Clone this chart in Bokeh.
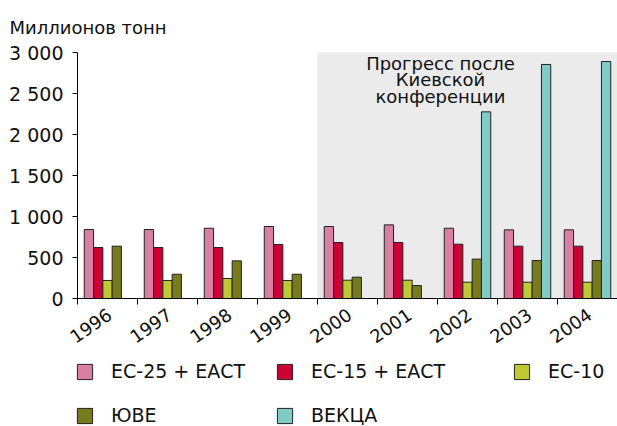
import math
from bokeh.plotting import figure
from bokeh.models import (ColumnDataSource, Range1d, FixedTicker, BoxAnnotation, Label,
                          Legend, LegendItem)
from bokeh.transform import dodge
from bokeh.embed import file_html
from bokeh.resources import INLINE

NAN = float("nan")
years = ["1996", "1997", "1998", "1999", "2000", "2001", "2002", "2003", "2004"]
eu25_efta = [841, 841, 857, 878, 878, 898, 857, 837, 837]
eu15_efta = [622, 622, 622, 659, 683, 683, 662, 638, 638]
eu10 = [220, 220, 244, 220, 223, 223, 199, 199, 199]
see = [638, 296, 459, 296, 260, 158, 480, 463, 463]
eecca = [NAN, NAN, NAN, NAN, NAN, NAN, 2276, 2854, 2890]

series_names = ["ЕС-25 + ЕАСТ", "ЕС-15 + ЕАСТ", "ЕС-10", "ЮВЕ", "ВЕКЦА"]
series_keys = ["eu25", "eu15", "eu10", "see", "eecca"]
colors = ["#D97FA1", "#CC0035", "#BFC833", "#787A1E", "#80CBC6"]
y_ticks = [0, 500, 1000, 1500, 2000, 2500, 3000]
y_labels = ["0", "500", "1 000", "1 500", "2 000", "2 500", "3 000"]
title_text = "Миллионов тонн"
note_text = "Прогресс после\nКиевской\nконференции"

FONT = "DejaVu Sans"

W, H = 617, 426
TOP = 52            # pixel row of the 3000 line
AXIS_X = 77         # pixel column of the y axis
PX_PER_CAT = 60
Y_MAX = 3000
PX_PER_UNIT = 0.082  # 246 px for 3000
y_end = Y_MAX + TOP / PX_PER_UNIT
y_start = Y_MAX - (H - TOP) / PX_PER_UNIT
x_start = -AXIS_X / PX_PER_CAT
x_end = (W - AXIS_X) / PX_PER_CAT

n = len(years)
centers = [i + 0.5 for i in range(n)]
source = ColumnDataSource(dict(x=centers, eu25=eu25_efta, eu15=eu15_efta, eu10=eu10,
                               see=see, eecca=eecca))

p = figure(width=W, height=H, output_backend="svg", toolbar_location=None,
           x_range=Range1d(x_start, x_end), y_range=Range1d(y_start, y_end),
           min_border_left=0, min_border_right=0, min_border_top=0,
           min_border_bottom=0)
p.outline_line_color = None
p.xgrid.visible = False
p.ygrid.visible = False
p.background_fill_color = "white"
p.title.visible = False

title = Label(x=9, y=H - 27, x_units="screen", y_units="screen", text=title_text,
              text_baseline="alphabetic", text_font=FONT, text_font_size="18px",
              text_color="#111111")
p.add_layout(title)

shade = BoxAnnotation(left=4, bottom=0, top=Y_MAX, fill_color="#EBEBEB", fill_alpha=1.0,
                      line_color=None, level="underlay")
p.add_layout(shade)

bw = 0.155
offsets = [-2 * bw, -bw, 0, bw, 2 * bw]
renderers = []
for key, col, off in zip(series_keys, colors, offsets):
    r = p.vbar(x=dodge("x", off, range=p.x_range), top=key, width=bw, source=source,
               fill_color=col, line_color="#222222", line_width=1)
    renderers.append(r)

# y axis drawn at x = 0
p.yaxis.fixed_location = 0
p.yaxis.bounds = (0, Y_MAX)
p.yaxis.ticker = FixedTicker(ticks=y_ticks)
p.yaxis.major_label_overrides = {t: l for t, l in zip(y_ticks, y_labels)}
p.yaxis.minor_tick_line_color = None
p.yaxis.major_tick_out = 5
p.yaxis.major_tick_in = 0
p.yaxis.major_label_standoff = 9
p.yaxis.major_label_text_font = FONT
p.yaxis.major_label_text_font_size = "19px"
p.yaxis.major_label_text_color = "#111111"
p.yaxis.axis_line_color = "black"
p.yaxis.major_tick_line_color = "black"

# x axis drawn at y = 0: labels near centers, tick marks at boundaries (minor ticks)
label_shift = 0.035
label_pos = [c + label_shift for c in centers]
p.xaxis.fixed_location = 0
p.xaxis.bounds = (0, n)
p.xaxis.ticker = FixedTicker(ticks=label_pos, minor_ticks=list(range(n + 1)))
p.xaxis.major_label_overrides = {c: y for c, y in zip(label_pos, years)}
p.xaxis.major_tick_line_color = None
p.xaxis.minor_tick_line_color = "black"
p.xaxis.minor_tick_out = 6
p.xaxis.minor_tick_in = 0
p.xaxis.major_label_standoff = 8
p.xaxis.major_label_orientation = math.radians(35)
p.xaxis.major_label_text_font = FONT
p.xaxis.major_label_text_font_size = "18px"
p.xaxis.major_label_text_color = "#111111"
p.xaxis.axis_line_color = "black"

note = Label(x=6.05, y=Y_MAX, text=note_text, text_align="center", text_baseline="top",
             text_font=FONT, text_font_size="18px", text_color="#111111",
             text_line_height=0.79)
p.add_layout(note)

legend_pos = [(75, 44), (275, 44), (512, 44), (75, 0), (275, 0)]
for name, r, loc in zip(series_names, renderers, legend_pos):
    lg = Legend(items=[LegendItem(label=name, renderers=[r])], location=loc,
                glyph_width=19, glyph_height=19, label_standoff=17, padding=0, margin=0,
                border_line_color=None, background_fill_alpha=0,
                label_text_font=FONT, label_text_font_size="19px", label_text_color="#111111")
    p.add_layout(lg)

open("out.html", "w").write(file_html(p, INLINE))
